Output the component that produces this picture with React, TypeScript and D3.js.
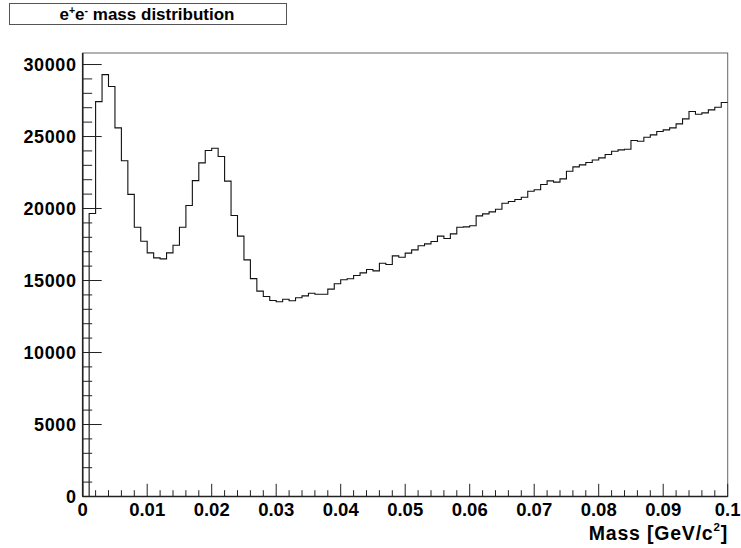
import React from "react";
import * as d3 from "d3";

const binCounts: number[] = [
  0, 19650, 27420, 29300, 28470, 25600, 23320, 20980, 18700, 17730,
  16920, 16570, 16500, 16920, 17450, 18700, 20210, 21940, 23170, 24030,
  24190, 23610, 21900, 19510, 18080, 16430, 15130, 14260, 13890, 13610,
  13520, 13700, 13590, 13800, 13935, 14120, 14050, 14050, 14400, 14770,
  15050, 15120, 15350, 15530, 15760, 15670, 16200, 16110, 16710, 16620,
  16900, 17130, 17410, 17545, 17710, 18080, 17920, 18240, 18700, 18725,
  18800, 19490, 19630, 19770, 19950, 20370, 20485, 20625, 20785, 21200,
  21300, 21665, 21920, 21830, 22060, 22590, 22895, 23030, 23200, 23370,
  23520, 23750, 23980, 24075, 24120, 24720, 24675, 24950, 25115, 25345,
  25460, 25600, 25880, 26225, 26735, 26550, 26640, 26850, 27035, 27360,
];
const xMin = 0;
const xMax = 0.1;
const yMax = 30800;
const xMajorTicks: number[] = [0, 0.01, 0.02, 0.03, 0.04, 0.05, 0.06, 0.07, 0.08, 0.09, 0.1];
const xTickLabels: string[] = ["0", "0.01", "0.02", "0.03", "0.04", "0.05", "0.06", "0.07", "0.08", "0.09", "0.1"];
const yMajorTicks: number[] = [0, 5000, 10000, 15000, 20000, 25000, 30000];
const titleMain = "e";
const xTitle = "Mass [GeV/c";

const FONT = "'Liberation Sans', Arial, Helvetica, sans-serif";

export default function App() {
  const left = 82.7, right = 727.7, top = 53, bottom = 496.5;
  const x = d3.scaleLinear().domain([xMin, xMax]).range([left, right]);
  const y = d3.scaleLinear().domain([0, yMax]).range([bottom, top]);
  const nb = binCounts.length;
  const bw = (xMax - xMin) / nb;

  const pts: [number, number][] = [];
  binCounts.forEach((v, i) => {
    pts.push([xMin + i * bw, v]);
    pts.push([xMin + (i + 1) * bw, v]);
  });
  const path = d3.line<[number, number]>().x((d) => x(d[0])).y((d) => y(d[1]))(pts) || "";

  const xMinor = d3.range(0, 51).map((i) => i * 0.002).filter((v) => Math.abs((v * 100) - Math.round(v * 100)) > 1e-6);
  const yMinor = d3.range(0, 31).map((i) => i * 1000).filter((v) => v % 5000 !== 0);

  return (
    <svg width={741} height={548} style={{ position: "absolute", left: 0, top: 0, background: "#fff" }}>
      <rect x={0} y={0} width={741} height={548} fill="#fff" />
      {/* title box */}
      <rect x={9.5} y={3.5} width={277} height={21} fill="#fff" stroke="#555" strokeWidth={1} />
      <text x={147} y={19.5} textAnchor="middle" fontFamily={FONT} fontWeight="bold" fontSize={17} fill="#000">
        {titleMain}
        <tspan fontSize={10.5} dy={-6}>+</tspan>
        <tspan dy={6}>e</tspan>
        <tspan fontSize={10.5} dy={-6}>-</tspan>
        <tspan dy={6}> mass distribution</tspan>
      </text>

      {/* frame */}
      <rect x={left} y={top} width={right - left} height={bottom - top} fill="none" stroke="#666" strokeWidth={1} />

      {/* histogram */}
      <path d={path} fill="none" stroke="#111" strokeWidth={1.1} />

      {/* axes lines */}
      <line x1={left} x2={left} y1={top} y2={bottom} stroke="#222" strokeWidth={1.6} />
      <line x1={left} x2={right} y1={bottom} y2={bottom} stroke="#222" strokeWidth={1.6} />

      {/* y ticks */}
      {yMajorTicks.map((v) => (
        <g key={"ym" + v}>
          <line x1={left} x2={left + 19} y1={y(v)} y2={y(v)} stroke="#222" strokeWidth={1} />
          <text x={76.5} y={y(v)} dy="0.36em" textAnchor="end" fontFamily={FONT} fontWeight="bold" fontSize={18} letterSpacing={0.6} fill="#000">
            {String(v)}
          </text>
        </g>
      ))}
      {yMinor.map((v) => (
        <line key={"yn" + v} x1={left} x2={left + 9.5} y1={y(v)} y2={y(v)} stroke="#222" strokeWidth={1} />
      ))}

      {/* x ticks */}
      {xMajorTicks.map((v, i) => (
        <g key={"xm" + i}>
          <line x1={x(v)} x2={x(v)} y1={bottom} y2={bottom - 12.7} stroke="#222" strokeWidth={1} />
          <text x={x(v)} y={516} textAnchor="middle" fontFamily={FONT} fontWeight="bold" fontSize={18.5} fill="#000">
            {xTickLabels[i]}
          </text>
        </g>
      ))}
      {xMinor.map((v, i) => (
        <line key={"xn" + i} x1={x(v)} x2={x(v)} y1={bottom} y2={bottom - 6.3} stroke="#222" strokeWidth={1} />
      ))}

      {/* x title */}
      <text x={728} y={539.5} textAnchor="end" fontFamily={FONT} fontWeight="bold" fontSize={19.5} letterSpacing={0.8} fill="#000">
        {xTitle}
        <tspan fontSize={11.5} dy={-8.5}>2</tspan>
        <tspan dy={8.5}>]</tspan>
      </text>
    </svg>
  );
}
